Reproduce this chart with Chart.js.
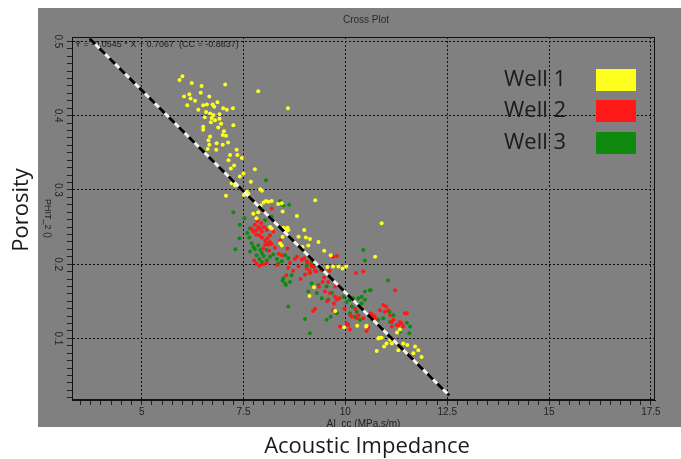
<!DOCTYPE html>
<html>
<head>
<meta charset="utf-8">
<script src="https://cdn.jsdelivr.net/npm/chart.js@4.4.1/dist/chart.umd.min.js"></script>
<style>
  html, body { margin: 0; padding: 0; background: #fff; }
  #wrap { width: 681px; height: 459px; }
</style>
</head>
<body>
<div id="wrap"><canvas id="myChart" width="681" height="459"></canvas></div>
<script>
const wellNames = ["Well 1", "Well 2", "Well 3"];
const wellColors = ["#ffff1e", "#ff1a1a", "#0f8a0f"];

const well1X = [5.93, 6.00, 6.23, 6.47, 7.05, 7.86, 6.04, 6.17, 6.20, 6.31, 6.66, 6.12, 6.51, 6.60, 6.74, 6.78, 6.39, 6.58, 6.68, 6.76,
  6.91, 7.00, 7.09, 7.24, 6.72, 6.80, 6.91, 6.51, 6.88, 7.25, 6.51, 6.68, 6.99, 7.07, 6.64, 6.66, 6.84, 6.99, 6.83, 7.33,
  7.17, 7.35, 7.46, 7.13, 7.27, 7.19, 7.78, 7.50, 7.41, 7.68, 7.21, 7.29, 7.91, 7.95, 7.58, 8.59, 7.07, 7.51, 7.62, 7.99,
  8.05, 8.11, 8.19, 7.92, 8.35, 8.44, 7.74, 7.86, 8.46, 7.82, 8.81, 9.26, 8.15, 8.19, 8.48, 8.52, 8.58, 8.60, 8.54, 8.99,
  8.46, 8.85, 9.03, 9.13, 8.40, 8.44, 8.95, 9.09, 9.34, 9.48, 9.64, 9.70, 9.83, 9.93, 10.02, 10.73, 9.56, 9.23, 9.12, 9.75,
  9.97, 10.52, 11.27, 10.83, 11.34, 10.29, 10.51, 10.81, 10.89, 11.10, 11.14, 11.42, 11.52, 11.71, 11.79, 10.77, 10.95, 11.87, 11.30, 10.89,
  11.01, 11.67, 6.86, 6.95, 6.70, 6.55, 7.02, 6.62, 6.45, 7.12];
const well1Y = [0.448, 0.453, 0.444, 0.440, 0.442, 0.433, 0.426, 0.429, 0.423, 0.420, 0.426, 0.414, 0.414, 0.415, 0.415, 0.412, 0.408, 0.405, 0.403, 0.401,
  0.402, 0.410, 0.408, 0.410, 0.397, 0.394, 0.396, 0.385, 0.384, 0.387, 0.381, 0.372, 0.374, 0.373, 0.367, 0.361, 0.363, 0.361, 0.354, 0.354,
  0.347, 0.347, 0.343, 0.340, 0.333, 0.329, 0.328, 0.322, 0.318, 0.311, 0.309, 0.306, 0.301, 0.299, 0.298, 0.410, 0.292, 0.293, 0.295, 0.283,
  0.285, 0.284, 0.285, 0.279, 0.281, 0.282, 0.268, 0.270, 0.271, 0.262, 0.265, 0.286, 0.250, 0.248, 0.249, 0.247, 0.249, 0.246, 0.244, 0.246,
  0.237, 0.237, 0.236, 0.234, 0.228, 0.225, 0.223, 0.225, 0.230, 0.218, 0.212, 0.197, 0.197, 0.194, 0.197, 0.210, 0.196, 0.169, 0.157, 0.137,
  0.115, 0.117, 0.108, 0.101, 0.112, 0.117, 0.116, 0.100, 0.101, 0.098, 0.093, 0.093, 0.091, 0.089, 0.084, 0.083, 0.089, 0.075, 0.084, 0.255,
  0.093, 0.080, 0.418, 0.389, 0.391, 0.398, 0.379, 0.355, 0.431, 0.364];

const well2X = [8.19, 7.78, 7.86, 7.82, 7.91, 7.95, 7.74, 7.81, 7.89, 8.07, 8.15, 8.23, 8.03, 8.07, 8.15, 8.11, 8.19, 8.03, 8.40, 8.44,
  8.58, 7.82, 7.89, 7.99, 8.07, 8.32, 8.60, 8.72, 8.85, 9.05, 9.13, 9.26, 8.81, 8.93, 9.05, 8.64, 8.76, 8.99, 9.07, 9.17,
  9.23, 9.12, 9.28, 9.40, 9.48, 9.61, 9.70, 9.79, 9.44, 9.58, 9.50, 9.62, 9.75, 9.85, 9.72, 9.26, 9.21, 10.26, 10.44, 10.32,
  10.44, 10.24, 10.65, 10.73, 10.85, 10.93, 11.00, 10.97, 11.10, 10.56, 10.52, 11.18, 11.34, 11.51, 11.22, 10.07, 10.11, 11.46, 11.38, 11.30,
  11.14, 10.69, 10.62, 10.73, 10.13, 9.75, 9.79, 9.70, 9.87, 10.03, 10.28, 10.16, 11.05, 11.26, 11.42, 11.14, 7.95, 8.00, 7.70, 8.27,
  8.36, 7.76, 8.55, 8.90, 9.35, 9.55, 9.98, 7.84, 7.93, 8.09, 7.98, 8.13, 9.01, 9.16];
const well2Y = [0.275, 0.253, 0.250, 0.246, 0.248, 0.244, 0.244, 0.240, 0.239, 0.246, 0.239, 0.244, 0.232, 0.229, 0.230, 0.226, 0.227, 0.226, 0.232, 0.212,
  0.221, 0.201, 0.198, 0.200, 0.202, 0.199, 0.195, 0.191, 0.197, 0.194, 0.188, 0.191, 0.210, 0.206, 0.204, 0.202, 0.207, 0.208, 0.203, 0.197,
  0.196, 0.191, 0.190, 0.192, 0.182, 0.191, 0.210, 0.211, 0.176, 0.176, 0.163, 0.161, 0.170, 0.154, 0.147, 0.140, 0.137, 0.188, 0.190, 0.131,
  0.127, 0.140, 0.131, 0.128, 0.138, 0.145, 0.143, 0.136, 0.131, 0.115, 0.110, 0.125, 0.122, 0.134, 0.165, 0.118, 0.112, 0.134, 0.120, 0.118,
  0.122, 0.131, 0.134, 0.126, 0.131, 0.156, 0.152, 0.138, 0.116, 0.120, 0.127, 0.129, 0.138, 0.118, 0.116, 0.116, 0.236, 0.250, 0.248, 0.222,
  0.214, 0.205, 0.185, 0.180, 0.170, 0.150, 0.140, 0.258, 0.255, 0.235, 0.221, 0.218, 0.186, 0.200];

const well3X = [7.25, 7.66, 7.59, 7.64, 7.70, 7.74, 7.86, 7.91, 7.95, 7.99, 7.82, 7.89, 7.95, 8.07, 8.15, 8.23, 8.32, 8.35, 8.44, 8.52,
  8.60, 7.66, 7.78, 8.07, 8.40, 8.48, 8.62, 8.19, 8.03, 7.41, 7.40, 8.64, 8.48, 8.68, 9.05, 9.17, 9.05, 9.13, 9.17, 9.09,
  9.34, 9.30, 9.54, 9.67, 9.58, 9.42, 9.95, 10.03, 10.11, 10.19, 10.32, 10.40, 10.28, 10.16, 10.48, 10.44, 10.48, 10.60, 11.05, 9.01,
  9.54, 9.64, 9.79, 10.28, 10.36, 10.65, 10.81, 10.93, 11.10, 11.34, 11.51, 11.59, 10.40, 10.48, 10.62, 11.08, 11.18, 11.57, 10.11, 10.24,
  8.52, 8.54, 8.46, 8.60, 9.13, 8.05, 7.30, 7.52];
const well3Y = [0.270, 0.248, 0.242, 0.236, 0.228, 0.223, 0.225, 0.219, 0.215, 0.211, 0.212, 0.207, 0.203, 0.205, 0.210, 0.213, 0.207, 0.201, 0.204, 0.212,
  0.208, 0.217, 0.220, 0.219, 0.285, 0.279, 0.280, 0.264, 0.259, 0.253, 0.235, 0.176, 0.181, 0.185, 0.199, 0.203, 0.196, 0.188, 0.174, 0.163,
  0.172, 0.161, 0.170, 0.161, 0.152, 0.154, 0.156, 0.149, 0.152, 0.154, 0.154, 0.147, 0.147, 0.143, 0.152, 0.219, 0.205, 0.165, 0.178, 0.126,
  0.125, 0.129, 0.134, 0.136, 0.125, 0.125, 0.125, 0.127, 0.122, 0.109, 0.121, 0.116, 0.156, 0.163, 0.165, 0.136, 0.131, 0.107, 0.134, 0.129,
  0.174, 0.172, 0.178, 0.143, 0.107, 0.313, 0.220, 0.262];

// regression line ends
const fitX = [3.72, 12.55];
const fitY = [0.504, 0.023];
const fitText = "Y = -0.0545 * X + 0.7067  (CC = -0.8837)";

const xTicks = [5, 7.5, 10, 12.5, 15, 17.5];
const yTicks = [0.1, 0.2, 0.3, 0.4, 0.5];

function pts(xs, ys) {
  return xs.map((x, i) => ({ x: x, y: ys[i] }));
}

function isMajor(v, list) {
  return list.some((t) => Math.abs(t - v) < 1e-6);
}

const PANEL = { l: 38, t: 8, r: 681, b: 427 };
const textDark = "#1a1a1a";

const decorPlugin = {
  id: "decor",
  beforeDraw(chart) {
    const c = chart.ctx;
    c.save();
    c.fillStyle = "#fff";
    c.fillRect(0, 0, chart.width, chart.height);
    c.fillStyle = "#808080";
    c.fillRect(PANEL.l, PANEL.t, PANEL.r - PANEL.l, PANEL.b - PANEL.t);
    c.restore();
  },
  beforeDatasetsDraw(chart) {
    const c = chart.ctx;
    const a = chart.chartArea;
    c.save();
    // plot frame
    c.strokeStyle = "#111";
    c.lineWidth = 1;
    c.strokeRect(a.left + 0.5, a.top + 0.5, a.right - a.left - 1, a.bottom - a.top - 1);
    // equation
    c.fillStyle = "#1c1c1c";
    c.font = "9px 'Liberation Sans'";
    c.textBaseline = "middle";
    c.textAlign = "left";
    c.fillText(fitText, a.left + 3, a.top + 8);
    c.restore();
  },
  afterDraw(chart) {
    const c = chart.ctx;
    const a = chart.chartArea;
    const ys = chart.scales.y;
    c.save();

    // y tick labels, rotated like the original
    c.fillStyle = "#222";
    c.font = "10px 'Liberation Sans'";
    c.textAlign = "center";
    c.textBaseline = "middle";
    yTicks.forEach((v) => {
      const py = ys.getPixelForValue(v);
      c.save();
      c.translate(58, py);
      c.rotate(Math.PI / 2);
      c.fillText(String(v), 0, 0);
      c.restore();
    });

    // inner axis titles
    c.font = "9px 'Liberation Sans'";
    c.save();
    c.translate(47, (a.top + a.bottom) / 2);
    c.rotate(Math.PI / 2);
    c.fillText("PHIT_2 ()", 0, 0);
    c.restore();

    c.save();
    c.beginPath();
    c.rect(PANEL.l, PANEL.t, PANEL.r - PANEL.l, PANEL.b - PANEL.t);
    c.clip();
    c.font = "10px 'Liberation Sans'";
    c.fillText("AI_cc (MPa.s/m)", (a.left + a.right) / 2, 424);
    c.restore();

    c.fillStyle = "#2a2a2a";
    c.font = "10px 'Liberation Sans'";
    c.fillText("Cross Plot", 366, 20);

    // outer titles
    c.fillStyle = textDark;
    c.font = "22px 'Open Sans'";
    c.fillText("Acoustic Impedance", 367, 447);
    c.save();
    c.translate(22, 210);
    c.rotate(-Math.PI / 2);
    c.fillText("Porosity", 0, 0);
    c.restore();

    // legend
    const rows = [80, 111, 143];
    c.textAlign = "left";
    c.font = "22px 'Open Sans'";
    wellNames.forEach((name, i) => {
      c.fillStyle = textDark;
      c.fillText(name, 504, rows[i]);
      c.fillStyle = wellColors[i];
      c.fillRect(596, rows[i] - 11, 40, 22);
    });
    c.restore();
  },
};

function minorTicks(from, to, step) {
  const out = [];
  const n = Math.round((to - from) / step);
  for (let i = 0; i <= n; i++) out.push({ value: +(from + i * step).toFixed(4) });
  return out;
}

const axisFont = { family: "'Liberation Sans'", size: 10 };

new Chart("myChart", {
  type: "scatter",
  data: {
    datasets: [
      {
        label: "fit",
        data: pts(fitX, fitY),
        showLine: true,
        borderColor: "#000",
        borderWidth: 3,
        borderDash: [8, 6],
        pointRadius: 0,
      },
      {
        label: "fit base",
        data: pts(fitX, fitY),
        showLine: true,
        borderColor: "#f4f4f4",
        borderWidth: 3,
        pointRadius: 0,
      },
      {
        label: wellNames[0],
        data: pts(well1X, well1Y),
        backgroundColor: wellColors[0],
        borderWidth: 0,
        pointRadius: 2,
      },
      {
        label: wellNames[1],
        data: pts(well2X, well2Y),
        backgroundColor: wellColors[1],
        borderWidth: 0,
        pointRadius: 2,
      },
      {
        label: wellNames[2],
        data: pts(well3X, well3Y),
        backgroundColor: wellColors[2],
        borderWidth: 0,
        pointRadius: 2,
      },
    ],
  },
  options: {
    responsive: false,
    animation: false,
    layout: { padding: { top: 37, right: 26, left: 0, bottom: 0 } },
    plugins: { legend: { display: false }, tooltip: { enabled: false } },
    scales: {
      x: {
        type: "linear",
        min: 3.29,
        max: 17.6,
        afterBuildTicks: (s) => { s.ticks = minorTicks(3.5, 17.5, 0.25); },
        afterFit: (s) => { s.height = 59; },
        ticks: {
          autoSkip: false,
          maxRotation: 0,
          padding: 1,
          color: "#222",
          font: axisFont,
          callback: (v) => (isMajor(v, xTicks) ? String(v) : ""),
        },
        grid: {
          color: (ctx) => (ctx.tick && isMajor(ctx.tick.value, xTicks) ? "#111" : "rgba(0,0,0,0)"),
          tickColor: "#222",
          tickLength: 5,
        },
        border: { color: "#111", dash: [2, 2] },
      },
      y: {
        type: "linear",
        min: 0.017,
        max: 0.506,
        afterBuildTicks: (s) => { s.ticks = minorTicks(0.02, 0.5, 0.01); },
        afterFit: (s) => { s.width = 72; },
        ticks: { display: false },
        grid: {
          color: (ctx) => (ctx.tick && isMajor(ctx.tick.value, yTicks) ? "#111" : "rgba(0,0,0,0)"),
          tickColor: "#222",
          tickLength: 5,
        },
        border: { color: "#111", dash: [2, 2] },
      },
    },
  },
  plugins: [decorPlugin],
});
</script>
</body>
</html>
